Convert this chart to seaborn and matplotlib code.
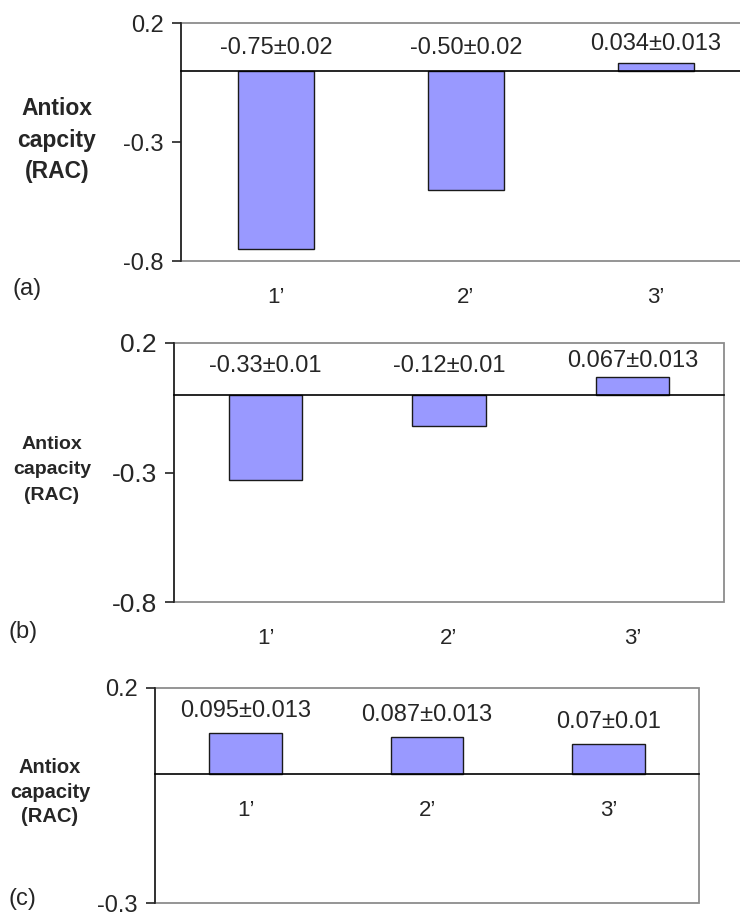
import matplotlib
matplotlib.use("Agg")
import matplotlib.pyplot as plt
import seaborn as sns

# Data
CATEGORIES = ["1’", "2’", "3’"]
RAC_A = [-0.75, -0.50, 0.034]
RAC_B = [-0.33, -0.12, 0.067]
RAC_C = [0.095, 0.087, 0.07]
LABELS_A = ["-0.75±0.02", "-0.50±0.02", "0.034±0.013"]
LABELS_B = ["-0.33±0.01", "-0.12±0.01", "0.067±0.013"]
LABELS_C = ["0.095±0.013", "0.087±0.013", "0.07±0.01"]
YTICKS_AB = [0.2, -0.3, -0.8]
YTICKS_C = [0.2, -0.3]
YLABEL_A = "Antiox\ncapcity\n(RAC)"
YLABEL_BC = "Antiox\ncapacity\n(RAC)"
TAGS = ["(a)", "(b)", "(c)"]

BAR_COLOR = "#9999ff"
FRAME_GRAY = "#8c8c8c"

sns.set_style("white")
plt.rcParams["font.family"] = ["Liberation Sans", "DejaVu Sans"]

W, H = 740, 916
fig = plt.figure(figsize=(W / 100, H / 100), dpi=100)


def px_box(left, right, top, bottom):
    return [left / W, 1 - bottom / H, (right - left) / W, (bottom - top) / H]


panels = [
    dict(vals=RAC_A, labels=LABELS_A, yticks=YTICKS_AB, ylim=(-0.8, 0.2),
         box=px_box(181, 751, 23, 261), ylabel=YLABEL_A, ylab_xy=(57, 140),
         ylab_fs=16.5, ylab_ls=1.45, tick_fs=17, bar_fs=17,
         gap=19, floor=23, cat_ref="bottom", cat_fs=16, tag_xy=(12, 289)),
    dict(vals=RAC_B, labels=LABELS_B, yticks=YTICKS_AB, ylim=(-0.8, 0.2),
         box=px_box(174, 724, 343, 602), ylabel=YLABEL_BC, ylab_xy=(52, 470),
         ylab_fs=14, ylab_ls=1.65, tick_fs=19, bar_fs=17,
         gap=16, floor=29, cat_ref="bottom", cat_fs=16, tag_xy=(9, 632)),
    dict(vals=RAC_C, labels=LABELS_C, yticks=YTICKS_C, ylim=(-0.3, 0.2),
         box=px_box(155, 699, 688, 903), ylabel=YLABEL_BC, ylab_xy=(50, 792),
         ylab_fs=14.5, ylab_ls=1.35, tick_fs=17, bar_fs=17,
         gap=22, floor=22, cat_ref="zero", cat_fs=16, tag_xy=(9, 899)),
]

for p, tag in zip(panels, TAGS):
    ax = fig.add_axes(p["box"])
    sns.barplot(x=CATEGORIES, y=p["vals"], color=BAR_COLOR, saturation=1,
                edgecolor="#1a1a1a", linewidth=1.0, width=0.4, ax=ax)
    ax.set_xlim(-0.5, 2.5)
    ax.set_ylim(*p["ylim"])

    # frame: gray box, dark left axis, black zero line with category ticks
    ax.patch.set_edgecolor(FRAME_GRAY)
    ax.patch.set_linewidth(1.3)
    ax.spines["top"].set_visible(False)
    ax.spines["right"].set_visible(False)
    ax.spines["left"].set_color("#222222")
    ax.spines["left"].set_linewidth(1.2)
    ax.spines["bottom"].set_position(("data", 0))
    ax.spines["bottom"].set_color("black")
    ax.spines["bottom"].set_linewidth(1.2)

    ax.set_xticks([])
    ax.set_xticks([0.5, 1.5, 2.5], minor=True)
    ax.tick_params(axis="x", which="minor", direction="out", length=6,
                   width=1.0, color="#222222")
    ax.set_yticks(p["yticks"])
    ax.set_yticklabels([f"{t:g}" for t in p["yticks"]])
    ax.tick_params(axis="y", direction="out", length=6.5, width=1.2,
                   color="#222222", labelsize=p["tick_fs"], pad=6, left=True)
    ax.set_xlabel("")
    ax.set_ylabel("")

    # value labels above each bar (or above the zero line for negative bars)
    for i, (v, lab) in enumerate(zip(p["vals"], p["labels"])):
        off = p["gap"] if v > 0 else p["floor"]
        ax.annotate(lab, xy=(i, max(v, 0)), xytext=(0, off),
                    textcoords="offset pixels", ha="center", va="center",
                    fontsize=p["bar_fs"], annotation_clip=False)

    # category labels
    ref = p["ylim"][0] if p["cat_ref"] == "bottom" else 0
    for i, cat in enumerate(CATEGORIES):
        ax.annotate(cat, xy=(i, ref), xytext=(0, -36),
                    textcoords="offset pixels", ha="center", va="center",
                    fontsize=p["cat_fs"], annotation_clip=False)

    fig.text(p["ylab_xy"][0] / W, 1 - p["ylab_xy"][1] / H, p["ylabel"],
             ha="center", va="center", multialignment="center",
             fontsize=p["ylab_fs"], fontweight="bold",
             linespacing=p["ylab_ls"])
    fig.text(p["tag_xy"][0] / W, 1 - p["tag_xy"][1] / H, tag,
             ha="left", va="center", fontsize=17)

fig.savefig("out.png", dpi=100)
